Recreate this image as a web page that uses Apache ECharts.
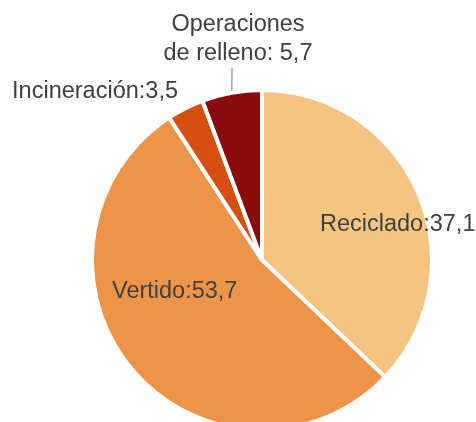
<!DOCTYPE html>
<html>
<head>
<meta charset="utf-8">
<script src="https://cdn.jsdelivr.net/npm/echarts@6/dist/echarts.min.js"></script>
<style>
  html, body { margin: 0; padding: 0; background: #fff; }
  #chart { width: 476px; height: 422px; }
</style>
</head>
<body>
<div id="chart"></div>
<script>
// datos del gráfico
const categories = ["Reciclado", "Vertido", "Incineración", "Operaciones\nde relleno"];
const values = [37.1, 53.7, 3.5, 5.7];
const separators = [":", ":", ":", ": "];
const colors = ["#F5C480", "#EE9449", "#D64F10", "#8A0B0B"];

// posición de cada etiqueta (como en el original)
const labelSpots = [
  { x: 320, y: 225, align: "left" },
  { x: 112, y: 292, align: "left" },
  { x: 178, y: 92, align: "right" },
  { x: 232, y: 39, align: "center" },
];

const fmt = (v) => String(v).replace(".", ",");

const chart = echarts.init(document.getElementById("chart"));
chart.setOption({
  backgroundColor: "#fff",
  animation: false,
  series: [
    {
      type: "pie",
      center: [262, 260],
      radius: 170,
      startAngle: 90,
      clockwise: true,
      avoidLabelOverlap: false,
      itemStyle: { borderColor: "#fff", borderWidth: 4 },
      label: {
        color: "#404040",
        fontFamily: "Liberation Sans, Arial, sans-serif",
        fontSize: 23.5,
        lineHeight: 29,
        formatter: (p) => p.name + separators[p.dataIndex] + fmt(p.value),
      },
      labelLine: {
        lineStyle: { color: "#A6A6A6", width: 1.5 },
        length: 10,
        length2: 0,
      },
      labelLayout: function (params) {
        const s = labelSpots[params.dataIndex];
        return { x: s.x, y: s.y, align: s.align, verticalAlign: "middle" };
      },
      data: categories.map((name, i) => ({
        name: name,
        value: values[i],
        itemStyle: { color: colors[i] },
        // la línea guía sale recta hacia abajo: el texto queda algo a la derecha
        label: {
          position: i < 2 ? "inside" : "outside",
          padding: i === 3 ? [0, 0, 0, 12] : 0,
        },
        labelLine: { show: i === 3 },
      })),
    },
  ],
});
</script>
</body>
</html>
